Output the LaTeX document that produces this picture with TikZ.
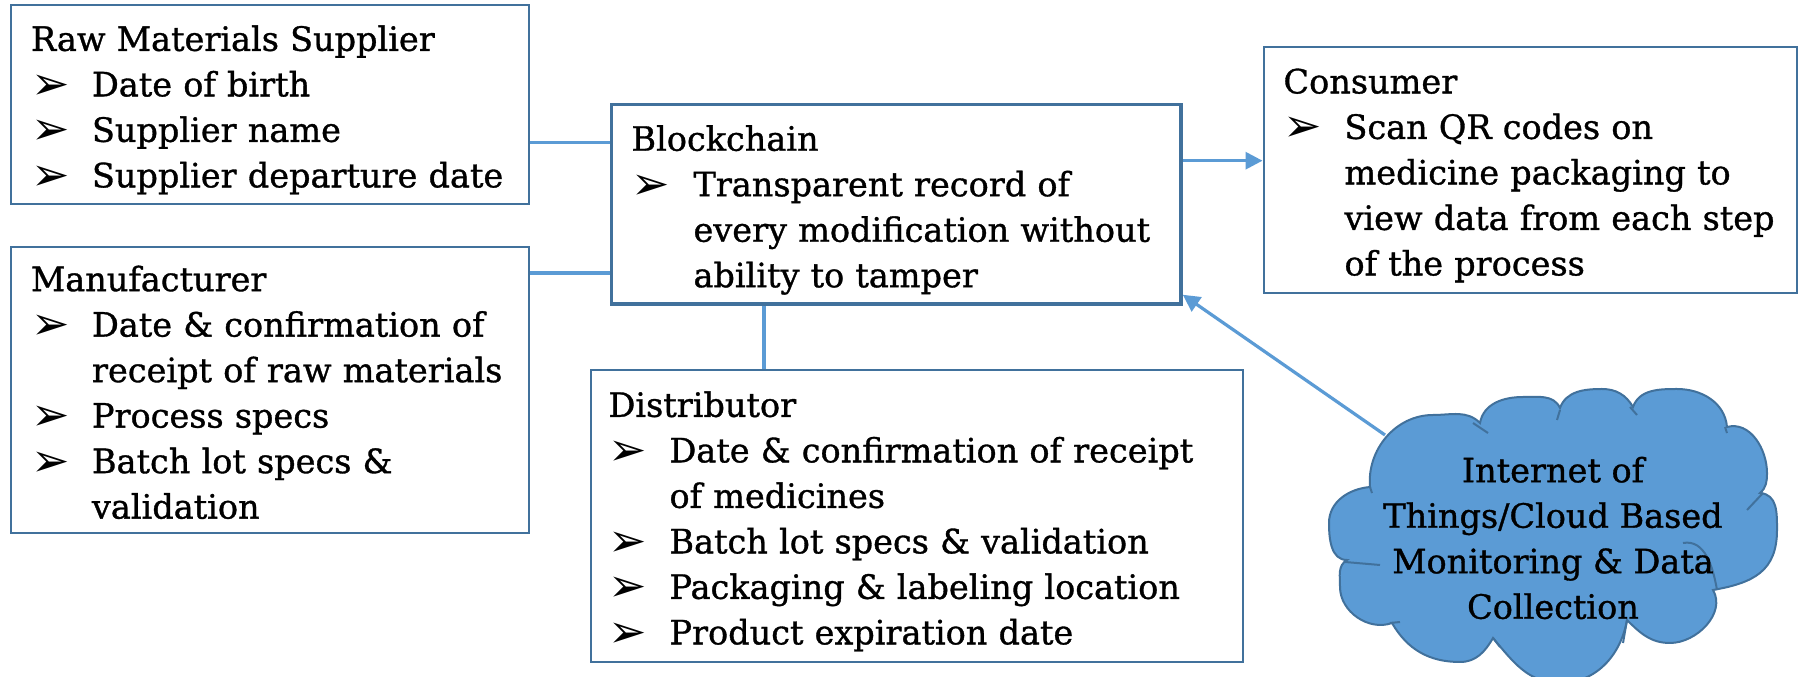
\documentclass[tikz,border=0pt]{standalone}
\usepackage{fontspec}
\setmainfont{DejaVu Serif}[FakeBold=1.0]
\newfontfamily\symfont{DejaVu Sans}
\usetikzlibrary{arrows.meta,calc}
\definecolor{boxc}{HTML}{41719C}
\definecolor{linec}{HTML}{5B9BD5}
\newcommand\bul{{\symfont\fontsize{46}{46}\selectfont\raisebox{-3pt}{➢}}}
\newcommand\mainfnt{\fontsize{33.5}{45.5}\selectfont}
\newcommand\dn[1]{\raisebox{-5.5pt}[\height][\depth]{#1}}
\tikzset{
  box/.style={draw=boxc, line width=2pt, inner xsep=20pt, inner ysep=0pt,
    align=left, font=\mainfnt, fill=white},
  conn/.style={draw=linec, line width=3.2pt},
  arr/.style={conn, -{Triangle[length=17pt,width=17pt]}},
}
\begin{document}
\begin{tikzpicture}[x=1pt,y=1pt]
\useasboundingbox (0,0) rectangle (1799,677);
\fill[white] (0,0) rectangle (1799,677);

% Raw materials supplier
\node[box, text width=478pt, minimum height=199pt] (rms) at (270,572.5) {\dn{%
\begin{tabular}{@{}p{61pt}@{}l@{}}
\multicolumn{2}{@{}l@{}}{Raw Materials Supplier}\\
\bul & Date of birth\\
\bul & Supplier name\\
\bul & Supplier departure date
\end{tabular}}};

% Manufacturer
\node[box, text width=478pt, minimum height=286.5pt] (mf) at (270,286.75) {\dn{%
\begin{tabular}{@{}p{61pt}@{}l@{}}
\multicolumn{2}{@{}l@{}}{Manufacturer}\\
\bul & Date \& confirmation of\\
 & receipt of raw materials\\
\bul & Process specs\\
\bul & Batch lot specs \&\\
 & validation
\end{tabular}}};

% Blockchain
\node[box, line width=3.5pt, text width=529.5pt, minimum height=199.3pt] (bc) at (896.25,472.65) {\dn{%
\begin{tabular}{@{}p{62pt}@{}l@{}}
\multicolumn{2}{@{}l@{}}{Blockchain}\\
\bul & Transparent record of\\
 & every modification without\\
 & ability to tamper
\end{tabular}}};

% Consumer
\node[box, text width=493.5pt, minimum height=245.6pt] (con) at (1530.25,507.2) {\dn{%
\begin{tabular}{@{}p{61pt}@{}l@{}}
\multicolumn{2}{@{}l@{}}{Consumer}\\
\bul & Scan QR codes on\\
 & medicine packaging to\\
 & view data from each step\\
 & of the process
\end{tabular}}};

% Distributor
\node[box, inner xsep=18pt, text width=616pt, minimum height=292pt] (dist) at (916.5,161) {\dn{%
\begin{tabular}{@{}p{61pt}@{}l@{}}
\multicolumn{2}{@{}l@{}}{Distributor}\\
\bul & Date \& confirmation of receipt\\
 & of medicines\\
\bul & Batch lot specs \& validation\\
\bul & Packaging \& labeling location\\
\bul & Product expiration date
\end{tabular}}};

% Cloud
\path[fill=linec, draw=boxc, line width=2pt]
 (1370,190) to[out=95,in=180] (1433,262) to[out=0,in=135] (1480,254)
 to[out=80,in=180] (1523,280) to[out=0,in=115] (1560,269)
 to[out=70,in=180] (1602,288) to[out=0,in=120] (1633,270)
 to[out=70,in=180] (1677,288) to[out=0,in=95] (1727,250)
 to[out=15,in=90] (1767,204) to[out=-90,in=40] (1760,184)
 to[out=-5,in=90,looseness=1.1] (1777,147) to[out=-90,in=10,looseness=1.2] (1713,87)
 to[out=-60,in=0] (1670,34) to[out=180,in=-45] (1627,57)
 to[out=-100,in=0] (1560,-6) to[out=180,in=-50] (1493,39)
 to[out=-120,in=0] (1460,15) to[out=180,in=-60] (1392,54)
 to[out=-160,in=-90] (1340,90) to[out=90,in=-150] (1347,117)
 to[out=180,in=-90] (1329,154) to[out=90,in=185] cycle;
\begin{scope}[draw=boxc, line width=2pt]
\draw (1683,134) to[out=10,in=100] (1717,87);
\draw (1473,254) -- (1488,244);
\draw (1560,267) -- (1557,257);
\draw (1630,270) -- (1637,262);
\draw (1725,250) -- (1727,244);
\draw (1747,167) -- (1763,184);
\draw (1627,57) -- (1623,34);
\draw (1493,39) -- (1500,30);
\draw (1390,54) -- (1400,55);
\draw (1345,115) -- (1380,112);
\draw (1370,190) -- (1372,184);
\end{scope}
\node[align=center, font=\mainfnt, inner sep=0pt] (iot) at (1553,139) {Internet of\\Things/Cloud Based\\Monitoring \& Data\\Collection};

% connectors
\coordinate (j1) at ([yshift=-38.2pt]rms.east);
\draw[conn] (j1) -- (j1 -| bc.west);
\coordinate (j2) at ([yshift=117.25pt]mf.east);
\draw[conn] (j2) -- (j2 -| bc.west);
\coordinate (j3) at ([xshift=-132.25pt]bc.south);
\draw[conn] (j3) -- (j3 |- dist.north);
\coordinate (j4) at ([yshift=43.65pt]bc.east);
\draw[arr] (j4) -- (j4 -| con.west);
\coordinate (cl1) at (1385,242);
\coordinate (j5) at ([yshift=11pt]bc.south east);
\draw[arr] (cl1) -- (j5);
\end{tikzpicture}
\end{document}
